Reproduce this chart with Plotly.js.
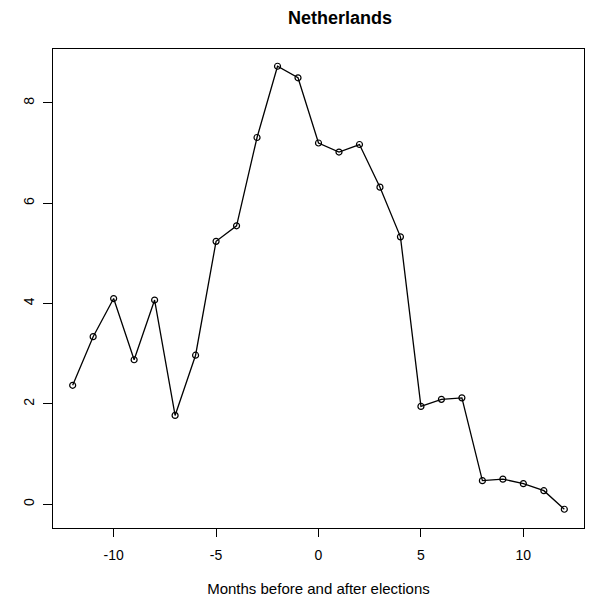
<!DOCTYPE html>
<html>
<head>
<meta charset="utf-8">
<script src="https://cdn.plot.ly/plotly-3.0.1.min.js"></script>
<style>html,body{margin:0;padding:0;background:#fff;}#chart{width:591px;height:601px;}</style>
</head>
<body>
<div id="chart"></div>
<script>
var months = [-12,-11,-10,-9,-8,-7,-6,-5,-4,-3,-2,-1,0,1,2,3,4,5,6,7,8,9,10,11,12];
var values = [2.37,3.34,4.10,2.88,4.07,1.77,2.97,5.24,5.55,7.31,8.73,8.50,7.20,7.02,7.17,6.32,5.33,1.95,2.09,2.12,0.47,0.50,0.41,0.27,-0.10];
var xTicks = [-10,-5,0,5,10];
var yTicks = [0,2,4,6,8];
var chartTitle = "Netherlands";
var xTitle = "Months before and after elections";

var trace = {
  x: months, y: values, type: "scatter", mode: "lines+markers",
  line: {color: "#000", width: 1.3},
  marker: {symbol: "circle-open", size: 6, color: "#000", line: {width: 1.2, color: "#000"}},
  hoverinfo: "none", showlegend: false
};
var font = "Liberation Sans, Arial, sans-serif";
var layout = {
  width: 591, height: 601,
  margin: {l: 53, r: 7, t: 49, b: 73, pad: 0},
  paper_bgcolor: "#fff", plot_bgcolor: "#fff",
  font: {family: font, size: 14, color: "#000"},
  title: {text: "<b>" + chartTitle + "</b>", font: {family: font, size: 18, color: "#000"},
          x: 319.5/591, xref: "paper", xanchor: "center", y: 1 - 17.5/601, yref: "container", yanchor: "middle"},
  xaxis: {
    range: [-12.96, 12.96], tickmode: "array", tickvals: xTicks, ticktext: xTicks.map(String),
    ticks: "outside", ticklen: 8, tickwidth: 1, tickcolor: "#000", ticklabelstandoff: 6,
    showline: true, linecolor: "#000", linewidth: 1, mirror: true,
    showgrid: false, zeroline: false,
    tickfont: {family: font, size: 14, color: "#000"},
    title: {text: xTitle, font: {family: font, size: 15, color: "#000"}, standoff: 21}
  },
  yaxis: {
    range: [-0.474, 9.074], tickmode: "array", tickvals: yTicks, ticktext: yTicks.map(String),
    ticks: "outside", ticklen: 9, tickwidth: 1, tickcolor: "#000", tickangle: -90, ticklabelstandoff: 3,
    showline: true, linecolor: "#000", linewidth: 1, mirror: true,
    showgrid: false, zeroline: false,
    tickfont: {family: font, size: 14, color: "#000"}
  }
};
Plotly.newPlot("chart", [trace], layout, {staticPlot: true, displayModeBar: false});
</script>
</body>
</html>
